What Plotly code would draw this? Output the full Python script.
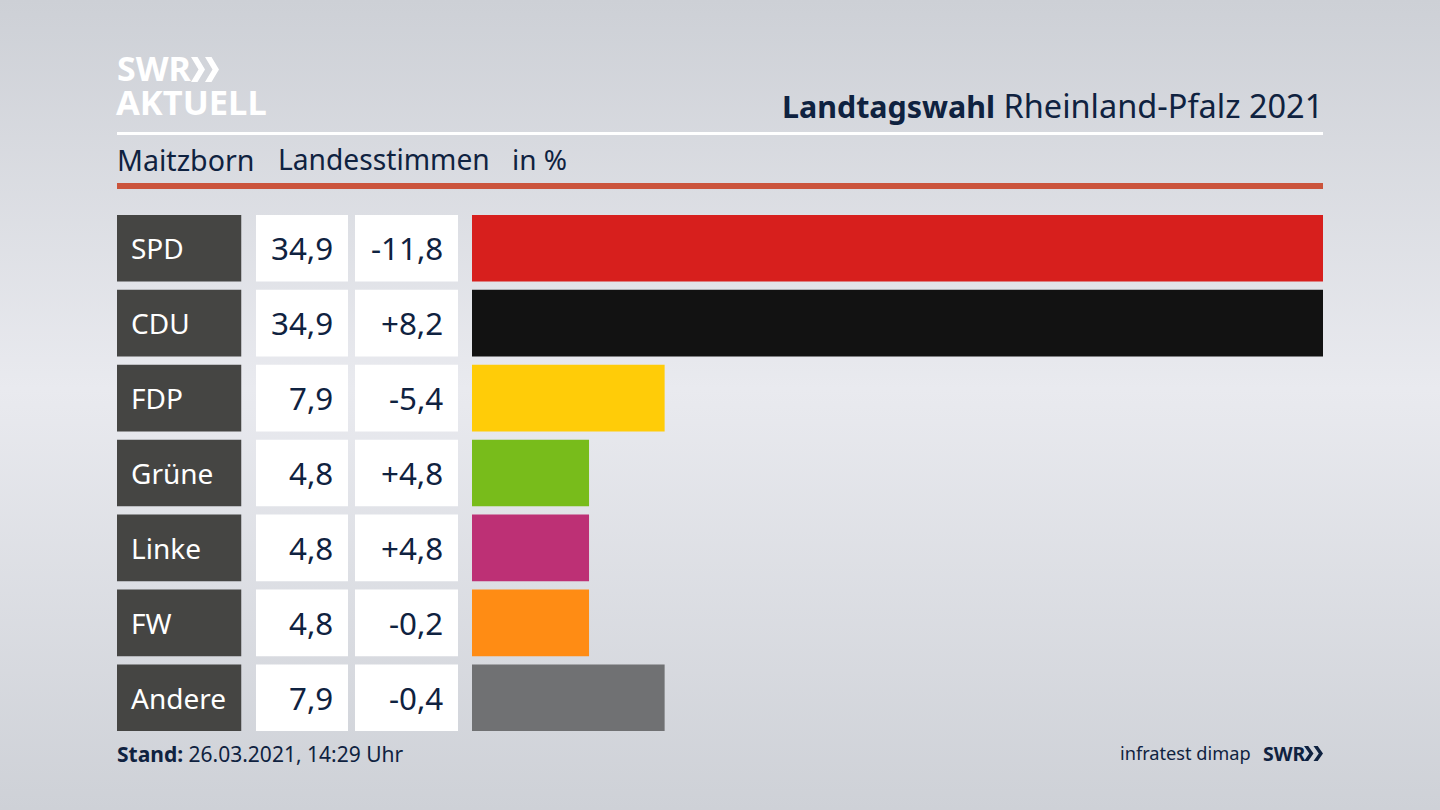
import plotly.graph_objects as go

parties = ["SPD", "CDU", "FDP", "Grüne", "Linke", "FW", "Andere"]
shares = [34.9, 34.9, 7.9, 4.8, 4.8, 4.8, 7.9]
share_labels = ["34,9", "34,9", "7,9", "4,8", "4,8", "4,8", "7,9"]
change_labels = ["-11,8", "+8,2", "-5,4", "+4,8", "+4,8", "-0,2", "-0,4"]
bar_colors = ["#d71f1d", "#121212", "#ffcc08", "#78bc1b", "#bd3075", "#ff8c14", "#707173"]

W, H = 1440, 810
FONT = "Noto Sans"
NAVY = "#0f2240"


def px_x(v):
    return v / W


def px_y(v):
    return 1 - v / H


fig = go.Figure()

# page background
fig.add_trace(
    go.Scatter(
        x=[0, 1, 1, 0, 0],
        y=[0, 0, 1, 1, 0],
        mode="lines",
        line=dict(width=0),
        fill="toself",
        fillgradient=dict(
            type="vertical",
            colorscale=[[0, "#ced1d7"], [0.52, "#e9eaef"], [1, "#cdd0d6"]],
        ),
        hoverinfo="skip",
        showlegend=False,
    )
)

# results, then the three table columns
fig.add_trace(go.Bar(y=parties, x=shares, orientation="h", marker=dict(color=bar_colors, line_width=0),
                     xaxis="x2", yaxis="y2", showlegend=False))
for axis, color in [("x3", "#454543"), ("x4", "#ffffff"), ("x5", "#ffffff")]:
    fig.add_trace(go.Bar(y=parties, x=[1] * len(parties), orientation="h", marker=dict(color=color, line_width=0),
                         xaxis=axis, yaxis="y2", hoverinfo="skip", showlegend=False))


def text(x, y, s, size, color=NAVY, anchor="left"):
    fig.add_annotation(x=px_x(x), y=px_y(y), xref="paper", yref="paper", text=s, showarrow=False,
                       xanchor=anchor, yanchor="middle", borderpad=0, borderwidth=0,
                       font=dict(family=FONT, size=size, color=color))


def chevron(x, top, bottom, w, t, color):
    mid = (top + bottom) / 2
    pts = [(x, top), (x + t, top), (x + w, mid), (x + t, bottom), (x, bottom), (x + w - t, mid)]
    path = "M " + " L ".join(f"{px_x(a):.5f},{px_y(b):.5f}" for a, b in pts) + " Z"
    fig.add_shape(type="path", xref="paper", yref="paper", path=path, fillcolor=color, line_width=0)


for i, party in enumerate(parties):
    fig.add_annotation(x=px_x(131), y=party, xref="paper", yref="y2", text=party, showarrow=False, xanchor="left",
                       borderpad=0, borderwidth=0, font=dict(family=FONT, size=28, color="#ffffff"))
    fig.add_annotation(x=px_x(333), y=party, xref="paper", yref="y2", text=share_labels[i], showarrow=False,
                       xanchor="right", borderpad=0, borderwidth=0, font=dict(family=FONT, size=31.3, color=NAVY))
    fig.add_annotation(x=px_x(443), y=party, xref="paper", yref="y2", text=change_labels[i], showarrow=False,
                       xanchor="right", borderpad=0, borderwidth=0, font=dict(family=FONT, size=31.3, color=NAVY))

text(117, 68, "<b>SWR</b>", 34, "#ffffff")
chevron(191, 57, 82, 14, 6.5, "#ffffff")
chevron(205, 57, 82, 14, 6.5, "#ffffff")
text(116, 102, "<b>AKTUELL</b>", 34.5, "#ffffff")
text(1323, 105, '<span style="font-size:30.4px"><b>Landtagswahl</b></span> Rheinland-Pfalz 2021', 32.5, anchor="right")
text(117, 159, "Maitzborn", 28.6)
text(278, 159, "Landesstimmen", 28.2)
text(512, 159, "in %", 28)
text(117, 754, "<b>Stand:</b> 26.03.2021, 14:29 Uhr", 21)
text(1251, 753, "infratest dimap", 18.2, anchor="right")
text(1263, 753, "<b>SWR</b>", 19.5)
chevron(1304, 746, 761, 9.5, 4.2, NAVY)
chevron(1313.5, 746, 761, 9.5, 4.2, NAVY)

fig.add_shape(type="rect", xref="paper", yref="paper", x0=px_x(117), x1=px_x(1323), y0=px_y(135), y1=px_y(132),
              fillcolor="#ffffff", line_width=0)
fig.add_shape(type="rect", xref="paper", yref="paper", x0=px_x(117), x1=px_x(1323), y0=px_y(189), y1=px_y(183),
              fillcolor="#cb543c", line_width=0)

hidden = dict(visible=False, fixedrange=True)
fig.update_layout(
    width=W,
    height=H,
    margin=dict(l=0, r=0, t=0, b=0),
    paper_bgcolor="#dcdee3",
    plot_bgcolor="rgba(0,0,0,0)",
    barmode="overlay",
    bargap=0.11,
    xaxis=dict(domain=[0, 1], range=[0, 1], **hidden),
    yaxis=dict(domain=[0, 1], range=[0, 1], **hidden),
    xaxis2=dict(domain=[px_x(472), px_x(1323)], range=[0, 34.9], anchor="y2", **hidden),
    yaxis2=dict(domain=[px_y(735.2), px_y(210.8)], range=[6.5, -0.5], type="category", anchor="x2",
                categoryorder="array", categoryarray=parties, **hidden),
    xaxis3=dict(domain=[px_x(117), px_x(241.5)], range=[0, 1], anchor="y2", **hidden),
    xaxis4=dict(domain=[px_x(256), px_x(348)], range=[0, 1], anchor="y2", **hidden),
    xaxis5=dict(domain=[px_x(355), px_x(458)], range=[0, 1], anchor="y2", **hidden),
)

fig.write_html("out.html", config=dict(displayModeBar=False), post_script="document.body.style.margin='0';")
